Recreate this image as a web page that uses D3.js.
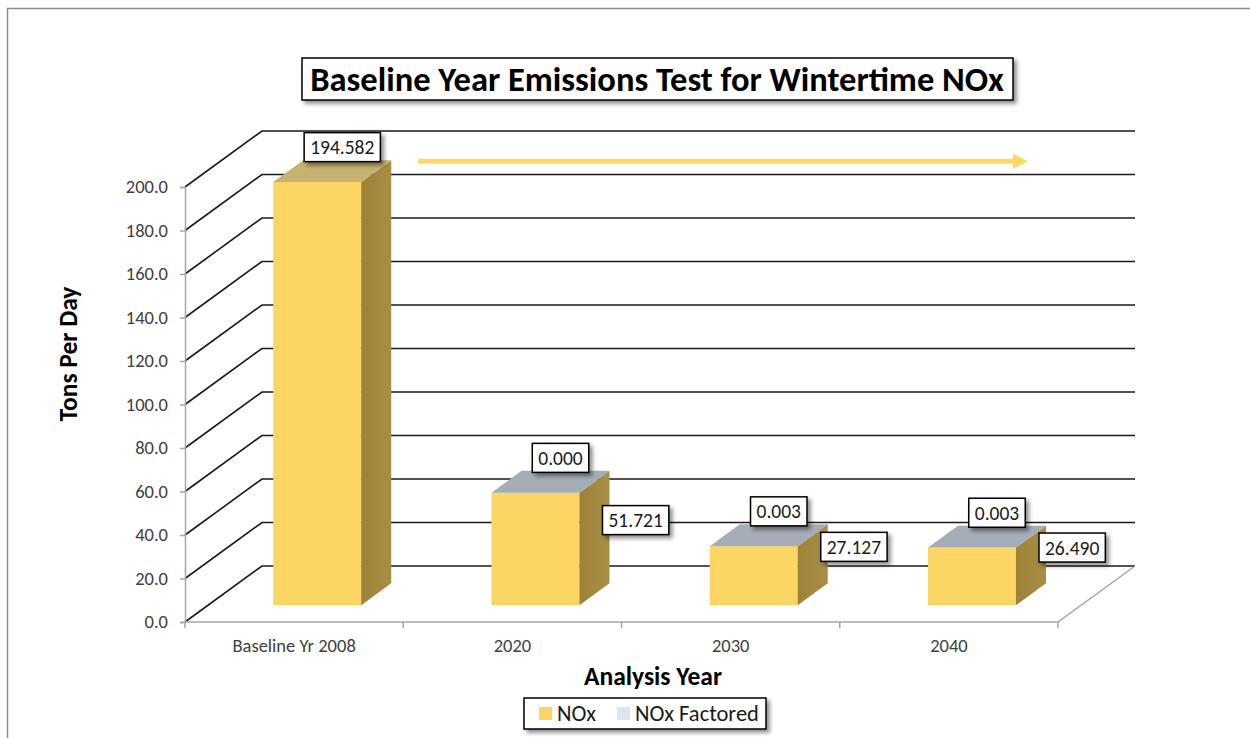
<!DOCTYPE html>
<html>
<head>
  <title>Baseline Year Emissions Test for Wintertime NOx</title>
  <style type="text/css">
    body { margin: 0; background: #ffffff; }
    text { font-family: Calibri, Carlito, Lato, sans-serif; }
  </style>
</head>
<body>
  <div id="my_dataviz"></div>
</body>
<script src="https://d3js.org/d3.v7.min.js"></script>

<script type="text/javascript">

      // chart data
      var categories = ["Baseline Yr 2008", "2020", "2030", "2040"];
      var noxValues = [194.582, 51.721, 27.127, 26.490];
      var noxFactoredValues = [null, 0.000, 0.003, 0.003];
      var seriesNames = ["NOx", "NOx Factored"];
      var yTickValues = [0, 20, 40, 60, 80, 100, 120, 140, 160, 180, 200];

      var W = 1250, H = 738;

      // front plane of the 3D box
      var plot = {left: 185, right: 1058, top: 187, bottom: 622};
      var depth = {dx: 77, dy: -56};
      var barDepth = [0.3, 0.69];

      var colors = {
        front: "#fcd665", side: "#a68c40", topNox: "#c7b36f",
        topFactored: "#a5aeb6", factored: "#dce6f2", arrow: "#fdd865"
      };

      var svg = d3.select("#my_dataviz")
        .append("svg")
          .attr("width", W)
          .attr("height", H);

      var defs = svg.append("defs");
      defs.append("filter").attr("id", "shadow")
          .attr("x", "-20%").attr("y", "-30%").attr("width", "150%").attr("height", "180%")
        .append("feDropShadow")
          .attr("dx", 3).attr("dy", 3).attr("stdDeviation", 2)
          .attr("flood-color", "#000").attr("flood-opacity", 0.45);

      var sideGrad = defs.append("linearGradient").attr("id", "sideGrad")
          .attr("x1", 0).attr("x2", 1).attr("y1", 0).attr("y2", 0);
      sideGrad.append("stop").attr("offset", "0%").attr("stop-color", "#9c833a");
      sideGrad.append("stop").attr("offset", "100%").attr("stop-color", "#a98f44");

      // outer chart border
      svg.append("rect")
        .attr("x", 7.5).attr("y", 8.5)
        .attr("width", 1300).attr("height", 800)
        .attr("fill", "none").attr("stroke", "#8c8c8c").attr("stroke-width", 1.5);

      var x = d3.scaleBand()
        .domain(categories)
        .range([plot.left, plot.right]);

      var y = d3.scaleLinear()
        .domain([0, 200])
        .range([plot.bottom, plot.top]);

      function proj(px, py, d) {
        return [px + d * depth.dx, py + d * depth.dy];
      }

      // walls: gridlines on side wall and back wall
      var grid = svg.append("g");
      yTickValues.forEach(function(t) {
        var a = proj(plot.left, y(t), 0),
            b = proj(plot.left, y(t), 1),
            c = proj(plot.right, y(t), 1);
        grid.append("path")
          .attr("d", "M" + a + "L" + b + "L" + c)
          .attr("fill", "none")
          .attr("stroke", "#1a1a1a")
          .attr("stroke-width", 1.6);
      });

      // floor edges
      var f1 = proj(plot.right, y(0), 0), f2 = proj(plot.right, y(0), 1);
      svg.append("path")
        .attr("d", "M" + [plot.left, y(0)] + "L" + f1 + "L" + f2)
        .attr("fill", "none")
        .attr("stroke", "#a6a6a6")
        .attr("stroke-width", 1.5);

      // y axis
      var yAxis = svg.append("g")
        .attr("transform", "translate(" + plot.left + ",0)")
        .call(d3.axisLeft(y).tickValues(yTickValues).tickFormat(d3.format(".1f")).tickSize(5).tickPadding(12));
      yAxis.select(".domain").attr("stroke", "#a6a6a6").attr("stroke-width", 1.5);
      yAxis.selectAll(".tick line").attr("stroke", "#a6a6a6").attr("stroke-width", 1.5);
      yAxis.selectAll(".tick text")
        .attr("fill", "#404040")
        .style("font-size", "18.5px")
        .style("font-family", "Calibri, Carlito, Lato, sans-serif");

      // x axis: category labels + boundary ticks
      var xAxis = svg.append("g")
        .attr("transform", "translate(0," + plot.bottom + ")")
        .call(d3.axisBottom(x).tickSize(0).tickPadding(17));
      xAxis.select(".domain").remove();
      xAxis.selectAll(".tick text")
        .attr("fill", "#404040")
        .style("font-size", "18.5px")
        .style("font-family", "Calibri, Carlito, Lato, sans-serif");
      var bounds = categories.map(function(c) { return x(c); }).concat([plot.right]);
      svg.append("g").selectAll("line")
        .data(bounds)
        .enter().append("line")
          .attr("x1", function(d) { return d; })
          .attr("x2", function(d) { return d; })
          .attr("y1", plot.bottom)
          .attr("y2", plot.bottom + 6)
          .attr("stroke", "#a6a6a6")
          .attr("stroke-width", 1.5);

      // bars
      var barData = categories.map(function(c, i) {
        return {cat: c, nox: noxValues[i], factored: noxFactoredValues[i]};
      });

      function pts(list) {
        return list.map(function(p) { return p.join(","); }).join(" ");
      }

      var barW = x.bandwidth() * 0.403;
      var bars = svg.append("g");
      barData.forEach(function(d) {
        var xl = x(d.cat) + x.bandwidth() / 2 - barW / 2,
            xr = xl + barW,
            total = d.nox + (d.factored || 0),
            y0 = y(0), y1 = y(total),
            d0 = barDepth[0], d1 = barDepth[1];

        var fl = proj(xl, y1, d0), fr = proj(xr, y0, d0);

        // front face
        bars.append("rect")
          .attr("x", fl[0]).attr("y", fl[1])
          .attr("width", fr[0] - fl[0]).attr("height", fr[1] - fl[1])
          .attr("fill", colors.front);

        // side face
        var s = [proj(xr, y1, d0), proj(xr, y1, d1), proj(xr, y0, d1), proj(xr, y0, d0)];
        bars.append("polygon")
          .attr("points", pts(s))
          .attr("fill", "url(#sideGrad)");

        // top face
        var t = [proj(xl, y1, d0), proj(xr, y1, d0), proj(xr, y1, d1), proj(xl, y1, d1)];
        bars.append("polygon")
          .attr("points", pts(t))
          .attr("fill", d.factored === null ? colors.topNox : colors.topFactored);

        d.side = {x: s[1][0], top: s[1][1], bottom: s[2][1]};
        d.backTop = {x: (t[3][0] + t[2][0]) / 2, y: t[2][1]};
      });

      // data labels with boxes
      var labels = svg.append("g");
      function boxLabel(txt, cx, cy, anchorLeft) {
        var g = labels.append("g");
        var rect = g.append("rect")
          .attr("fill", "#fff")
          .attr("stroke", "#000")
          .attr("stroke-width", 1.5)
          .attr("filter", "url(#shadow)");
        var tx = g.append("text")
          .text(txt)
          .attr("text-anchor", "middle")
          .attr("fill", "#1a1a1a")
          .style("font-size", "19.5px");
        var w = tx.node().getComputedTextLength() + 12, h = 29;
        if (anchorLeft) cx = cx + w / 2;
        rect.attr("x", cx - w / 2).attr("y", cy - h / 2).attr("width", w).attr("height", h);
        tx.attr("x", cx).attr("y", cy + 7);
      }

      barData.forEach(function(d) {
        var topText = d.factored === null ? d.nox.toFixed(3) : d.factored.toFixed(3);
        boxLabel(topText, d.backTop.x - 5, d.backTop.y - 13, false);
        if (d.factored !== null) {
          boxLabel(d.nox.toFixed(3), d.side.x - 7, (d.side.top + d.side.bottom) / 2 - 7, true);
        }
      });

      // trend arrow across the top of the wall
      var arrowY = y(200) + depth.dy * 0.46;
      var ax0 = x(categories[1]) + 15, ax1 = plot.right - 30;
      svg.append("line")
        .attr("x1", ax0).attr("x2", ax1 - 14)
        .attr("y1", arrowY).attr("y2", arrowY)
        .attr("stroke", colors.arrow).attr("stroke-width", 5);
      svg.append("polygon")
        .attr("points", pts([[ax1 - 15, arrowY - 7.5], [ax1, arrowY], [ax1 - 15, arrowY + 7.5]]))
        .attr("fill", colors.arrow);

      // title box
      var titleG = svg.append("g");
      titleG.append("rect")
        .attr("x", 302).attr("y", 58).attr("width", 711).attr("height", 42)
        .attr("fill", "#fff").attr("stroke", "#000").attr("stroke-width", 1.5)
        .attr("filter", "url(#shadow)");
      titleG.append("text")
        .attr("x", 657).attr("y", 91)
        .attr("text-anchor", "middle")
        .style("font-size", "34.5px").style("font-weight", "bold")
        .text("Baseline Year Emissions Test for Wintertime NOx");

      // axis titles
      svg.append("text")
        .attr("transform", "translate(77,354) rotate(-90)")
        .attr("text-anchor", "middle")
        .style("font-size", "25.5px").style("font-weight", "bold")
        .text("Tons Per Day");
      svg.append("text")
        .attr("x", 653).attr("y", 685)
        .attr("text-anchor", "middle")
        .style("font-size", "25.5px").style("font-weight", "bold")
        .text("Analysis Year");

      // legend
      var legend = svg.append("g");
      legend.append("rect")
        .attr("x", 524).attr("y", 698).attr("width", 242).attr("height", 31)
        .attr("fill", "#fff").attr("stroke", "#000").attr("stroke-width", 1.5)
        .attr("filter", "url(#shadow)");
      var lx = [539, 617], lc = [colors.front, colors.factored];
      seriesNames.forEach(function(n, i) {
        legend.append("rect")
          .attr("x", lx[i]).attr("y", 707).attr("width", 13).attr("height", 13)
          .attr("fill", lc[i]);
        legend.append("text")
          .attr("x", lx[i] + 18).attr("y", 721)
          .style("font-size", "22.5px").attr("fill", "#1a1a1a")
          .text(n);
      });

</script>
</html>
